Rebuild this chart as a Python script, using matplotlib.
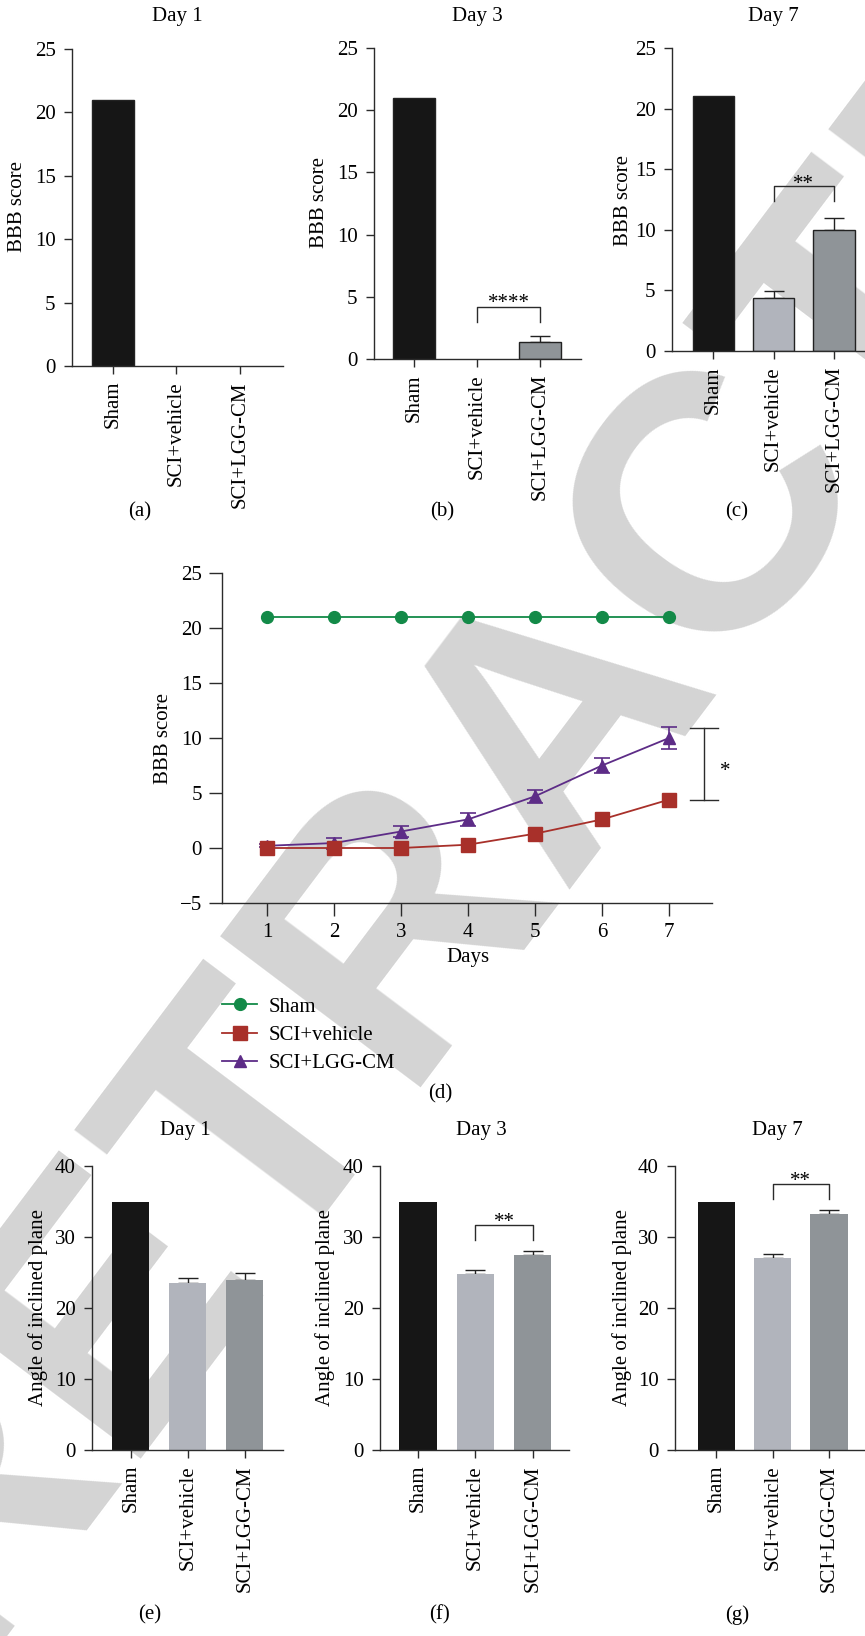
import matplotlib
matplotlib.use('Agg')
import matplotlib.pyplot as plt
import matplotlib.transforms as mtransforms
import numpy as np

W, H = 865, 1636
FS = 15
plt.rcParams['font.family'] = ['Liberation Serif', 'DejaVu Serif']
plt.rcParams['font.size'] = FS
plt.rcParams['axes.linewidth'] = 1.0
plt.rcParams['axes.edgecolor'] = '#2b2b2b'

# ---------------- data ----------------
groups = ['Sham', 'SCI+vehicle', 'SCI+LGG-CM']
bar_colors = ['#161616', '#b1b4bc', '#8f9498']

bbb_day1 = [21.0, 0.0, 0.0]
bbb_day1_err = [0.0, 0.0, 0.0]
bbb_day3 = [21.0, 0.0, 1.4]
bbb_day3_err = [0.0, 0.0, 0.45]
bbb_day7 = [21.0, 4.4, 10.0]
bbb_day7_err = [0.0, 0.55, 1.0]

angle_day1 = [35.0, 23.5, 24.0]
angle_day1_err = [0.0, 0.7, 1.0]
angle_day3 = [35.0, 24.8, 27.4]
angle_day3_err = [0.0, 0.6, 0.6]
angle_day7 = [35.0, 27.0, 33.2]
angle_day7_err = [0.0, 0.6, 0.6]

days = [1, 2, 3, 4, 5, 6, 7]
sham_line = [21.0, 21.0, 21.0, 21.0, 21.0, 21.0, 21.0]
vehicle_line = [0.0, 0.0, 0.0, 0.3, 1.3, 2.6, 4.4]
lgg_line = [0.2, 0.45, 1.5, 2.6, 4.7, 7.5, 10.0]
lgg_err = [0.15, 0.5, 0.5, 0.6, 0.6, 0.7, 1.0]

bbb_ticks = [0, 5, 10, 15, 20, 25]
angle_ticks = [0, 10, 20, 30, 40]
line_ticks = [-5, 0, 5, 10, 15, 20, 25]

fig = plt.figure(figsize=(W / 100, H / 100), dpi=100)
fig.patch.set_facecolor('white')

# watermark
fig.text(560 / W, 1 - 715 / H, 'RETRACTED', rotation=53, ha='center', va='center',
         fontsize=262, family='Liberation Sans', fontweight='bold', color='#d4d4d4',
         zorder=-10)


def add_ax(left, top, right, bottom):
    ax = fig.add_axes([left / W, 1 - bottom / H, (right - left) / W, (bottom - top) / H])
    ax.set_facecolor('none')
    for s in ['top', 'right']:
        ax.spines[s].set_visible(False)
    return ax


def ftext(x, y, s, **kw):
    fig.text(x / W, 1 - y / H, s, ha='center', va='center', **kw)


def bar_panel(rect, vals, errs, ylim, yticks, xlim, width, edged, title, title_xy,
              ylabel, ylabel_xy, label, label_xy, sig=None):
    ax = add_ax(*rect)
    x = np.arange(len(groups))
    lws = [1.0 if (edged and v > 0) else 0.0 for v in vals]
    ax.bar(x, vals, width=width, color=bar_colors, edgecolor='#222222', linewidth=lws, zorder=2)
    for xi, v, e in zip(x, vals, errs):
        if e > 0:
            ax.errorbar([xi], [v], yerr=[[0], [e]], fmt='none', ecolor='#222222',
                        elinewidth=1.0, capsize=7.5, capthick=1.0, zorder=1)
    ax.set_ylim(*ylim)
    ax.set_xlim(*xlim)
    ax.set_yticks(yticks)
    ax.set_xticks(x)
    ax.set_xticklabels(groups, rotation=90)
    ax.tick_params(axis='both', direction='out', length=5.8, width=1.0, color='#2b2b2b',
                   labelsize=FS)
    ax.tick_params(axis='y', pad=6)
    ax.tick_params(axis='x', pad=5)
    if sig is not None:
        x1, x2, ylo, yhi, ystar, stars = sig
        ax.plot([x1, x1, x2, x2], [ylo, yhi, yhi, ylo], color='#2b2b2b', lw=1.0, clip_on=False)
        tr = mtransforms.offset_copy(ax.transData, fig=fig, y=-5, units='points')
        ax.text((x1 + x2) / 2, ystar, stars, ha='center', va='center', fontsize=FS,
                transform=tr, clip_on=False)
    ftext(*title_xy, title, fontsize=FS)
    ftext(*ylabel_xy, ylabel, fontsize=FS, rotation=90)
    ftext(*label_xy, label, fontsize=FS)
    return ax


# Row 1 : BBB score bar charts
bar_panel((72, 49, 283, 366), bbb_day1, bbb_day1_err, (0, 25), bbb_ticks, (-0.646, 2.68), 0.66,
          True, 'Day 1', (177, 17), 'BBB score', (18, 207), '(a)', (140, 512))
bar_panel((374, 48, 581, 359), bbb_day3, bbb_day3_err, (0, 25), bbb_ticks, (-0.635, 2.65), 0.66,
          True, 'Day 3', (477, 17), 'BBB score', (320, 203), '(b)', (442, 512),
          sig=(1, 2, 3.0, 4.2, 5.0, '****'))
bar_panel((672, 48, 880, 351), bbb_day7, bbb_day7_err, (0, 25), bbb_ticks, (-0.68, 2.76), 0.68,
          True, 'Day 7', (773, 17), 'BBB score', (623, 200), '(c)', (737, 512),
          sig=(1, 2, 12.4, 13.65, 14.3, '**'))

# Row 3 : inclined plane
bar_panel((92, 1166, 283, 1450), angle_day1, angle_day1_err, (0, 40), angle_ticks, (-0.684, 2.67), 0.65,
          False, 'Day 1', (185, 1130), 'Angle of inclined plane', (38, 1308), '(e)', (150, 1615))
bar_panel((380, 1166, 569, 1450), angle_day3, angle_day3_err, (0, 40), angle_ticks, (-0.66, 2.63), 0.65,
          False, 'Day 3', (481, 1130), 'Angle of inclined plane', (325, 1308), '(f)', (440, 1615),
          sig=(1, 2, 29.6, 31.7, 33.0, '**'))
bar_panel((675, 1166, 868, 1450), angle_day7, angle_day7_err, (0, 40), angle_ticks, (-0.73, 2.69), 0.66,
          False, 'Day 7', (777, 1130), 'Angle of inclined plane', (622, 1308), '(g)', (737, 1615),
          sig=(1, 2, 35.4, 37.5, 38.8, '**'))

# Row 2 : line chart
axd = add_ax(222, 573, 712, 903)
green, red, purple = '#138a48', '#a8302a', '#5d2c87'
l1, = axd.plot(days, sham_line, color=green, marker='o', ms=8.5, lw=1.3, label='Sham', zorder=3)
axd.errorbar(days, lgg_line, yerr=lgg_err, fmt='none', ecolor=purple, elinewidth=1.2,
             capsize=5.5, capthick=1.2, zorder=3)
l3, = axd.plot(days, lgg_line, color=purple, marker='^', ms=9, lw=1.3, label='SCI+LGG-CM', zorder=4)
l2, = axd.plot(days, vehicle_line, color=red, marker='s', ms=9.5, lw=1.3, label='SCI+vehicle', zorder=5)
axd.set_xlim(0.33, 7.64)
axd.set_ylim(-5, 25)
axd.set_yticks(line_ticks)
axd.set_yticklabels(['\u22125'] + [str(t) for t in line_ticks[1:]])
axd.set_xticks(days)
axd.tick_params(axis='both', direction='out', length=9.5, width=1.0, color='#2b2b2b',
                labelsize=FS, pad=5)
axd.plot([7.52, 7.52], [4.4, 10.9], color='#2b2b2b', lw=1.0, clip_on=False)
axd.plot([7.31, 7.73], [10.9, 10.9], color='#2b2b2b', lw=1.0, clip_on=False)
axd.plot([7.31, 7.73], [4.4, 4.4], color='#2b2b2b', lw=1.0, clip_on=False)
trd = mtransforms.offset_copy(axd.transData, fig=fig, y=-5, units='points')
axd.text(7.84, 7.6, '*', ha='center', va='center', fontsize=FS, transform=trd, clip_on=False)
ftext(468, 957, 'Days', fontsize=FS)
ftext(163, 738, 'BBB score', fontsize=FS, rotation=90)
ftext(440, 1094, '(d)', fontsize=FS)
leg = axd.legend(handles=[l1, l2, l3], loc='upper left', bbox_to_anchor=(222 / W, 1 - 997 / H),
                 bbox_transform=fig.transFigure, frameon=False, borderpad=0, borderaxespad=0,
                 handlelength=1.7, handletextpad=0.55, labelspacing=0.42, fontsize=FS)

fig.savefig('out.png', dpi=100, facecolor='white')
